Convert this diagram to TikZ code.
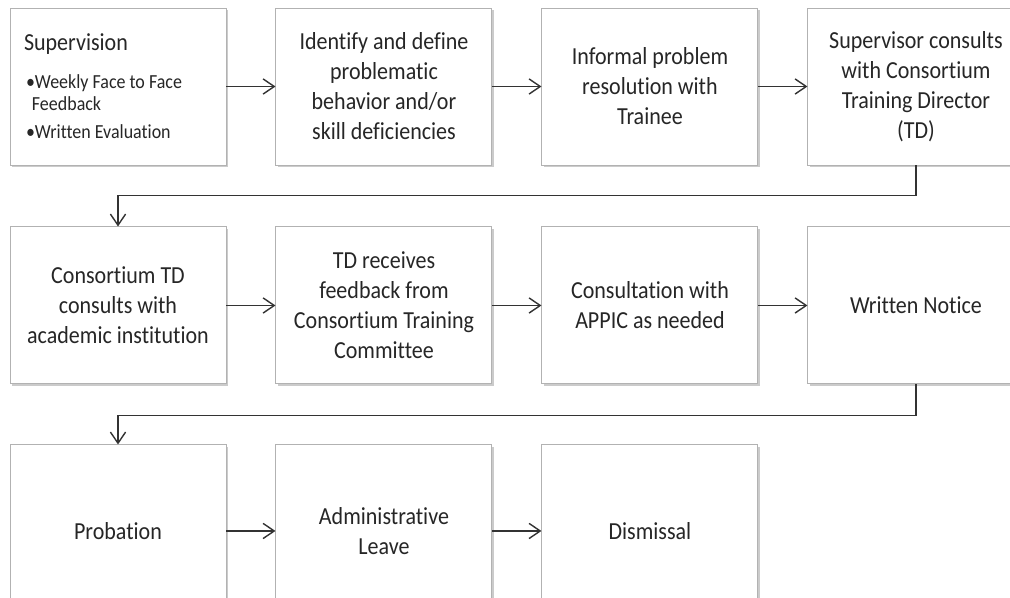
\documentclass[tikz,border=0pt]{standalone}
\usepackage{fontspec}
\setmainfont{Carlito}[FakeStretch=0.9, Ligatures=NoCommon]
\usetikzlibrary{arrows.meta,positioning,shadows}

\tikzset{
  stage/.style={draw=black!30, fill=white, line width=0.7pt,
    minimum width=5.4cm, minimum height=3.925cm,
    inner sep=0pt, align=center, text=black!85,
    font=\fontsize{17.4}{21.3}\selectfont,
    drop shadow={shadow xshift=0.05cm, shadow yshift=-0.06cm, fill=black!45, opacity=0.45}},
  laststage/.style={stage, minimum height=4.3cm},
  flow/.style={-{Straight Barb[length=0.28cm,width=0.38cm]}, line width=1pt, draw=black!80}
}

\begin{document}
\begin{tikzpicture}
  \useasboundingbox (0,0) rectangle (25.25,-14.95);
  \clip (0,0) rectangle (25.25,-14.95);

  \node[stage, text width=4.7cm, align=flush left] (sup) at (2.95,-2.1625)
    {Supervision\\[11pt]
     \fontsize{14.2}{15.6}\selectfont\hspace*{0.05cm}\textbullet Weekly Face to Face\\
     \hspace*{0.2cm}Feedback\\[-1pt]
     \hspace*{0.05cm}\textbullet Written Evaluation};
  \node[stage, right=1.225cm of sup] (idf) {Identify and define\\problematic\\behavior and/or\\skill deficiencies};
  \node[stage, right=1.225cm of idf] (inf) {Informal problem\\resolution with\\Trainee};
  \node[stage, right=1.225cm of inf] (std) {Supervisor consults\\with Consortium\\Training Director\\(TD)};

  \node[stage, below=1.525cm of sup] (ctd) {Consortium TD\\consults with\\academic institution};
  \node[stage, right=1.225cm of ctd] (fbk) {TD receives\\feedback from\\Consortium Training\\Committee};
  \node[stage, right=1.225cm of fbk] (app) {Consultation with\\APPIC as needed};
  \node[stage, right=1.225cm of app] (wrn) {Written Notice};

  \node[laststage, below=1.5cm of ctd] (prb) {Probation};
  \node[laststage, right=1.225cm of prb] (adm) {Administrative\\Leave};
  \node[laststage, right=1.225cm of adm] (dis) {Dismissal};

  \draw[flow] (sup) -- (idf);
  \draw[flow] (idf) -- (inf);
  \draw[flow] (inf) -- (std);
  \draw[flow] (std.south) -- ++(0,-0.75) -| (ctd.north);
  \draw[flow] (ctd) -- (fbk);
  \draw[flow] (fbk) -- (app);
  \draw[flow] (app) -- (wrn);
  \draw[flow] (wrn.south) -- ++(0,-0.775) -| (prb.north);
  \draw[flow] (prb) -- (adm);
  \draw[flow] (adm) -- (dis);
\end{tikzpicture}
\end{document}
